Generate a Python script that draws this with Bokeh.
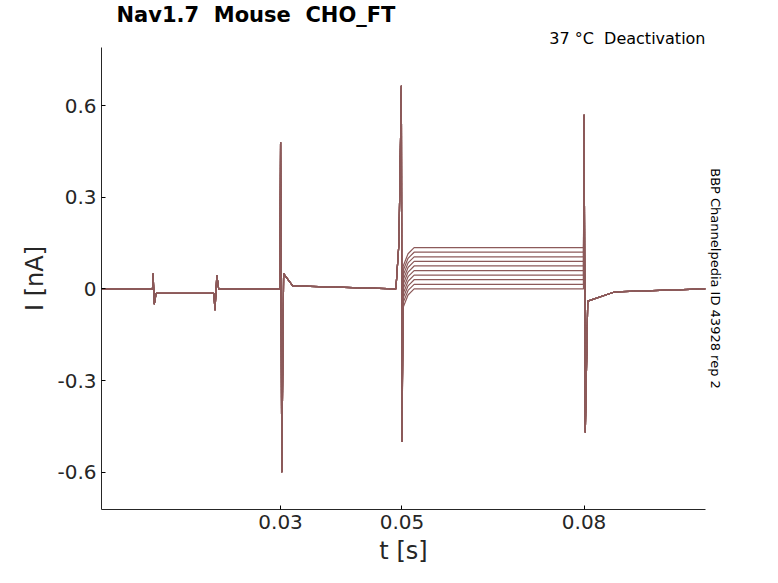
from bokeh.plotting import figure
from bokeh.models import FixedTicker, Range1d, Title
from bokeh.embed import file_html
from bokeh.resources import INLINE

# key time points (s) shared by all traces
t = [0.0005, 0.0089, 0.0090, 0.0092, 0.0095, 0.0190, 0.0192, 0.0195, 0.0198, 0.0299, 0.0300, 0.0302, 0.0305,
     0.0320, 0.0490, 0.0495, 0.0499, 0.0500, 0.0502, 0.0510, 0.0520, 0.0799, 0.0800, 0.0802, 0.0806, 0.0850, 0.1000]
# common part of the traces
base = [0.0, 0.0, 0.05, -0.05, -0.015, -0.015, -0.07, 0.045, 0.0, 0.0, 0.48, -0.6, 0.05,
        0.01, 0.0, 0.15, 0.665, -0.5, None, None, None, None, 0.57, -0.47, -0.04, -0.01, 0.0]
# steady level of each trace during the 0.05-0.08 s step (nA)
levels = [0.135, 0.12, 0.105, 0.09, 0.075, 0.06, 0.045, 0.03, 0.015, 0.0]

NB = "\u00a0"
p = figure(width=762, height=567, output_backend="svg", toolbar_location=None,
           x_range=Range1d(0.0005, 0.1), y_range=Range1d(-0.722, 0.79),
           min_border_left=101, min_border_right=57, min_border_top=0, min_border_bottom=55)
p.title.visible = False

sub = Title(text="37" + NB + "°C" + NB + NB + "Deactivation", align="right", text_font="DejaVu Sans",
            text_font_size="16px", text_font_style="normal", text_color="black", offset=0, standoff=0)
main = Title(text="Nav1.7" + NB + NB + "Mouse" + NB + NB + "CHO_FT", align="left", text_font="DejaVu Sans",
             text_font_size="21px", text_font_style="bold", text_color="black", offset=15, standoff=0)
p.add_layout(sub, "above")
p.add_layout(main, "above")
side = Title(text="BBP Channelpedia ID 43928 rep 2", align="center", text_font="DejaVu Sans",
             text_font_size="13px", text_font_style="normal", text_color="black", offset=-60, standoff=4)
p.add_layout(side, "right")

for lv in levels:
    y = list(base)
    y[18] = lv - 0.06
    y[19] = lv - 0.02
    y[20] = lv
    y[21] = lv
    p.line(t, y, color="#8c5a5a", line_width=1.2)

p.grid.visible = False
p.outline_line_color = None
for ax in (p.xaxis, p.yaxis):
    ax.major_label_text_font = "DejaVu Sans"
    ax.major_label_text_font_size = "20px"
    ax.major_label_text_color = "#262626"
    ax.axis_label_text_font = "DejaVu Sans"
    ax.axis_label_text_font_size = "24px"
    ax.axis_label_text_font_style = "normal"
    ax.axis_label_text_color = "#262626"
    ax.minor_tick_line_color = None
    ax.major_tick_in = 4
    ax.major_tick_out = 0
    ax.axis_line_color = "#262626"
p.xaxis.ticker = FixedTicker(ticks=[0.03, 0.05, 0.08])
p.yaxis.ticker = FixedTicker(ticks=[-0.6, -0.3, 0, 0.3, 0.6])
p.yaxis.major_label_overrides = {-0.6: "-0.6", -0.3: "-0.3", 0: "0", 0.3: "0.3", 0.6: "0.6"}
p.xaxis.axis_label = "t [s]"
p.yaxis.axis_label = "I [nA]"

open("out.html", "w").write(file_html(p, INLINE))
